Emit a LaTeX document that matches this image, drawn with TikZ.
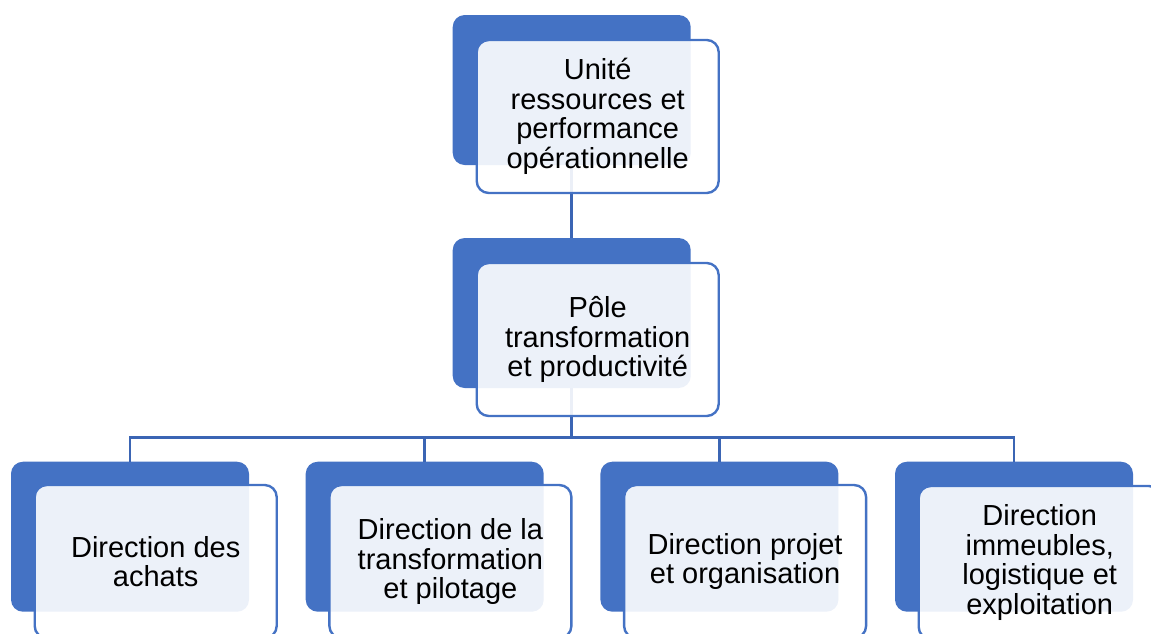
\documentclass[tikz,border=0pt]{standalone}
\usepackage{fontspec}
\setmainfont{Liberation Sans}
\definecolor{office}{HTML}{4472C4}
\definecolor{linkblue}{HTML}{3B65B4}
\begin{document}
\begin{tikzpicture}[x=1pt,y=-1pt,
  back/.style={rectangle, rounded corners=12pt, fill=office, draw=none,
    minimum width=238pt, minimum height=150pt, inner sep=0pt, outer sep=0pt},
  front/.style={rectangle, rounded corners=12pt, fill=white, fill opacity=0.9,
    text opacity=1, draw=office, line width=2.4pt,
    minimum width=242pt, minimum height=153pt, inner sep=0pt, outer sep=0pt,
    align=center, text=black, font=\fontsize{29}{29.5}\selectfont},
  link/.style={draw=linkblue, line width=2.6pt}]
\useasboundingbox (0,0) rectangle (1151,633);
\coordinate (bus) at (0,437.5);
% back blocks
\node[back] (topb) at (571.7,90) {};
\node[back] (midb) at (571.7,313) {};
\node[back] (c1b) at (130,536.7) {};
\node[back] (c2b) at (424.7,536.7) {};
\node[back] (c3b) at (719.4,536.7) {};
\node[back] (c4b) at (1014,536.7) {};
% connectors
\draw[link] (topb.south) -- (midb.north);
\draw[link] (midb.south) -- (midb.south |- bus) -| (c1b.north);
\draw[link] (midb.south |- bus) -| (c2b.north);
\draw[link] (midb.south |- bus) -| (c3b.north);
\draw[link] (midb.south |- bus) -| (c4b.north);
% front blocks
\node[front] (top) at (597.7,116.5) {Unité\\ressources et\\performance\\opérationnelle};
\node[front] (mid) at (597.7,339.5) {Pôle\\transformation\\et productivité};
\node[front] (c1) at (155.7,561.5) {Direction des\\achats};
\node[front] (c2) at (450.4,561.5) {Direction de la\\transformation\\et pilotage};
\node[front] (c3) at (745.1,561.5) {Direction projet\\et organisation};
\node[front] (c4) at (1039.7,562.5) {Direction\\immeubles,\\logistique et\\exploitation};
\end{tikzpicture}
\end{document}
